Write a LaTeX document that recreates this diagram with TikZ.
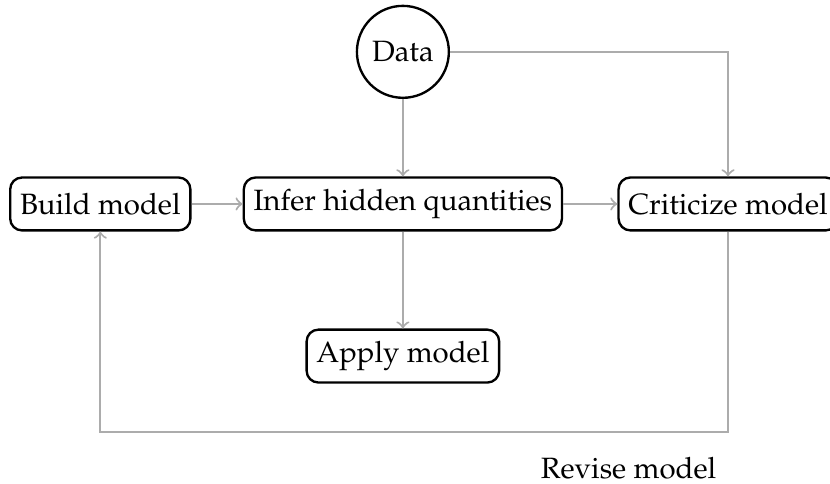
\documentclass[tikz,border=0pt]{standalone}
\usepackage[T1]{fontenc}
\usepackage{mathpazo}
\usepackage{tikz}

\tikzset{
  stepbox/.style={draw, thick, rounded corners=4pt, minimum height=18pt},
  datanode/.style={draw, thick, circle, minimum size=1.1cm, inner sep=0pt},
  flow/.style={->, gray!65, line width=0.7pt}
}

\begin{document}
\begin{tikzpicture}
\useasboundingbox (0,0) rectangle (9.93,-5.79);

\node[datanode] (data) at (4.82,-0.62) {Data};

\node[stepbox] (build) at (1.20,-2.44) {Build model};
\node[stepbox] (infer) at (4.82,-2.44) {Infer hidden quantities};
\node[stepbox] (crit)  at (8.71,-2.44) {Criticize model};
\node[stepbox] (apply) at (4.82,-4.26) {Apply model};

\coordinate (loop) at (4.82,-5.17);
\node (revise) at (7.52,-5.60) {Revise model};

\draw[flow] (build) -- (infer);
\draw[flow] (infer) -- (crit);
\draw[flow] (data) -- (infer);
\draw[flow] (infer) -- (apply);
\draw[flow] (data) -| (crit);
\draw[flow] (crit) |- (loop) -| (build);

\end{tikzpicture}
\end{document}
